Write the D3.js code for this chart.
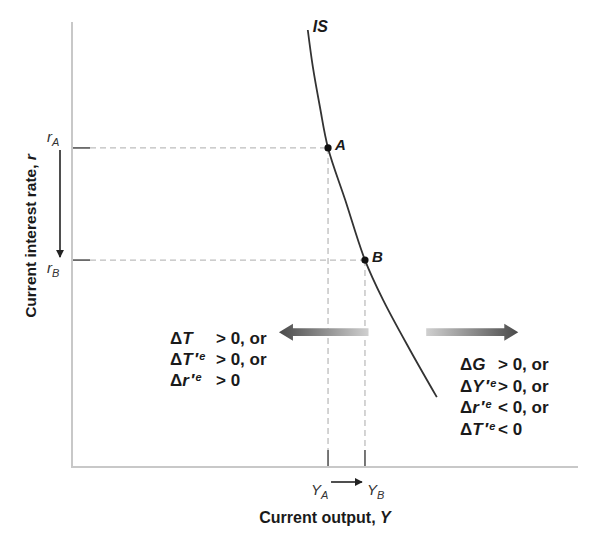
<!DOCTYPE html>
<html><head><meta charset="utf-8">
<script src="https://cdn.jsdelivr.net/npm/d3@7"></script>
<style>body{margin:0;background:#fff}svg{display:block}text{font-family:"Liberation Sans",Arial,sans-serif}</style>
</head><body>
<svg id="c" width="591" height="542"></svg>
<script>
// IS curve (output Y, interest rate r), in arbitrary units 0..100
const isY = [46.6, 47.6, 49.0, 50.6, 54.0, 57.9, 61.5, 66.8, 72.1];
const isR = [98.2, 89.9, 80.9, 71.7, 60.0, 46.5, 37.5, 26.3, 15.7];
const pointNames = ["A", "B"];
const pointY = [50.6, 57.9];
const pointR = [71.7, 46.5];
const leftLines = [["T", false, "> 0, or"], ["T", true, "> 0, or"], ["r", true, "> 0"]];
const rightLines = [["G", false, "> 0, or"], ["Y", true, "> 0, or"], ["r", true, "< 0, or"], ["T", true, "< 0"]];

const svg = d3.select("#c");
const x = d3.scaleLinear().domain([0, 100]).range([72, 578]);
const y = d3.scaleLinear().domain([0, 100]).range([467, 22]);
const ink = "#1a1a1a";

const defs = svg.append("defs");
function grad(id, x1, x2) {
  const g = defs.append("linearGradient").attr("id", id).attr("x1", x1).attr("x2", x2).attr("y1", 0).attr("y2", 0);
  g.append("stop").attr("offset", "0%").attr("stop-color", "#d0d0d0");
  g.append("stop").attr("offset", "100%").attr("stop-color", "#4a4a4a");
}
grad("gl", 1, 0); grad("gr", 0, 1);
defs.append("marker").attr("id", "ah").attr("viewBox", "0 0 10 10").attr("refX", 9).attr("refY", 5)
  .attr("markerWidth", 8).attr("markerHeight", 8).attr("markerUnits", "userSpaceOnUse").attr("orient", "auto")
  .append("path").attr("d", "M0,0L10,5L0,10z").attr("fill", "#222");

// axes
svg.append("line").attr("x1", x(0)).attr("x2", x(0)).attr("y1", y(100)).attr("y2", y(0)).attr("stroke", "#c8c8c8").attr("stroke-width", 2);
svg.append("line").attr("x1", x(0) - 1).attr("x2", x(100)).attr("y1", y(0)).attr("y2", y(0)).attr("stroke", "#c8c8c8").attr("stroke-width", 2);

// dashed guides and tick marks
pointNames.forEach((n, i) => {
  svg.append("line").attr("x1", x(0) + 18).attr("x2", x(pointY[i])).attr("y1", y(pointR[i])).attr("y2", y(pointR[i]))
    .attr("stroke", "#bdbdbd").attr("stroke-width", 1.3).attr("stroke-dasharray", "6,4");
  svg.append("line").attr("x1", x(pointY[i])).attr("x2", x(pointY[i])).attr("y1", y(pointR[i])).attr("y2", y(0) - 17)
    .attr("stroke", "#bdbdbd").attr("stroke-width", 1.3).attr("stroke-dasharray", "6,4");
  svg.append("line").attr("x1", x(0) + 1).attr("x2", x(0) + 18).attr("y1", y(pointR[i])).attr("y2", y(pointR[i]))
    .attr("stroke", "#555").attr("stroke-width", 1.6);
  svg.append("line").attr("x1", x(pointY[i])).attr("x2", x(pointY[i])).attr("y1", y(0) - 17).attr("y2", y(0) - 1)
    .attr("stroke", "#555").attr("stroke-width", 1.6);
});

// IS curve
const line = d3.line().x(d => x(d[0])).y(d => y(d[1])).curve(d3.curveCatmullRom);
svg.append("path").attr("d", line(isY.map((v, i) => [v, isR[i]]))).attr("fill", "none").attr("stroke", "#333").attr("stroke-width", 1.8);
svg.append("text").attr("x", x(isY[0]) + 5).attr("y", y(isR[0]) + 2).attr("font-size", 16).attr("font-weight", "bold").attr("font-style", "italic").attr("fill", ink).text("IS");

// points
pointNames.forEach((n, i) => {
  svg.append("circle").attr("cx", x(pointY[i])).attr("cy", y(pointR[i])).attr("r", 3.6).attr("fill", "#111");
  svg.append("text").attr("x", x(pointY[i]) + 7).attr("y", y(pointR[i]) + 2).attr("font-size", 15).attr("font-weight", "bold").attr("font-style", "italic").attr("fill", ink).text(n);
});

// shift arrows
function shiftArrow(x0, x1, yy, fill) {
  const dir = x1 > x0 ? 1 : -1, hl = 14, bw = 3.8, hw = 8.5;
  const pts = [[x0, yy - bw], [x1 - dir * hl, yy - bw], [x1 - dir * hl, yy - hw], [x1, yy], [x1 - dir * hl, yy + hw], [x1 - dir * hl, yy + bw], [x0, yy + bw]];
  svg.append("path").attr("d", "M" + pts.map(p => p.join(",")).join("L") + "Z").attr("fill", fill);
}
shiftArrow(x(58.6), x(40.9), y(30.3), "url(#gl)");
shiftArrow(x(70.0), x(88.2), y(30.3), "url(#gr)");

// condition texts
function condBlock(lines, x0, xop, y0, dy) {
  lines.forEach((l, i) => {
    const t = svg.append("text").attr("x", x0).attr("y", y0 + i * dy).attr("font-size", 17).attr("font-weight", "bold").attr("fill", ink);
    t.append("tspan").text("\u0394");
    t.append("tspan").attr("font-style", "italic").text(l[0]);
    if (l[1]) {
      t.append("tspan").attr("font-style", "italic").attr("dx", 1.5).text("\u2032");
      t.append("tspan").attr("font-style", "italic").attr("font-size", 11).attr("dx", 1).attr("dy", -5).text("e");
    }
    t.append("tspan").attr("x", xop).attr("y", y0 + i * dy).text(l[2]);
  });
}
condBlock(leftLines, 170, 216, 344, 21);
condBlock(rightLines, 460, 498, 370, 21.7);

// r labels and arrow
function sublabel(px, py, main, sub) {
  const t = svg.append("text").attr("x", px).attr("y", py).attr("font-size", 15).attr("font-style", "italic").attr("fill", "#333");
  t.append("tspan").text(main);
  t.append("tspan").attr("font-size", 11).attr("dy", 4).text(sub);
}
sublabel(47, y(pointR[0]) - 6, "r", "A");
sublabel(47, y(pointR[1]) + 13, "r", "B");
svg.append("line").attr("x1", 60).attr("x2", 60).attr("y1", y(pointR[0]) + 2).attr("y2", y(pointR[1]) - 3).attr("stroke", "#222").attr("stroke-width", 1.6).attr("marker-end", "url(#ah)");

// Y labels and arrow
sublabel(x(pointY[0]) - 17, 495, "Y", "A");
sublabel(x(pointY[1]) + 2, 495, "Y", "B");
svg.append("line").attr("x1", x(pointY[0]) + 3).attr("x2", x(pointY[1]) - 3).attr("y1", 482).attr("y2", 482).attr("stroke", "#222").attr("stroke-width", 1.6).attr("marker-end", "url(#ah)");

// axis titles
const xt = svg.append("text").attr("x", 325).attr("y", 523).attr("text-anchor", "middle").attr("font-size", 16).attr("font-weight", "bold").attr("fill", ink);
xt.append("tspan").text("Current output, ");
xt.append("tspan").attr("font-style", "italic").text("Y");
const yt = svg.append("text").attr("transform", "translate(36,236) rotate(-90)").attr("text-anchor", "middle").attr("font-size", 15.5).attr("font-weight", "bold").attr("fill", ink);
yt.append("tspan").text("Current interest rate, ");
yt.append("tspan").attr("font-style", "italic").text("r");
</script>
</body></html>
